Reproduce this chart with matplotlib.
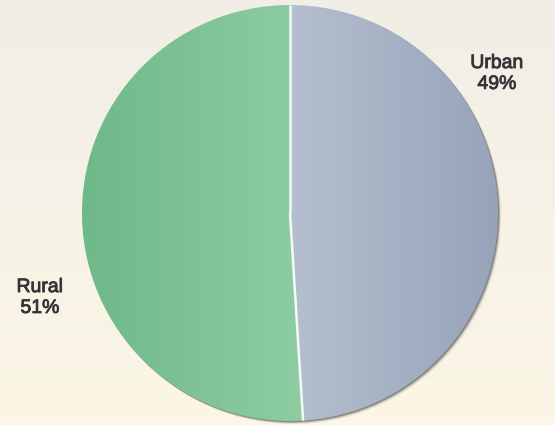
import numpy as np
import matplotlib.pyplot as plt
import matplotlib.patheffects as pe
from matplotlib.patches import Circle

# population share
labels = ["Urban", "Rural"]
shares = [49, 51]

plt.rcParams['font.family'] = ['Liberation Sans', 'DejaVu Sans']

W, H = 555, 425
fig = plt.figure(figsize=(W / 100, H / 100), dpi=100)
ax = fig.add_axes([0, 0, 1, 1])

# cream background, slightly greyer at the top
bg_top = np.array([241, 238, 231]) / 255
bg_bot = np.array([251, 246, 229]) / 255
t = np.linspace(0, 1, 64)[:, None, None]
bg = bg_top * (1 - t) + bg_bot * t
bg = np.repeat(bg, 2, axis=1)
ax.imshow(bg, extent=(0, W, 0, H), origin="upper", aspect="auto", zorder=0)

cx, cy, r = 290, 212, 208

# soft shadow along the lower right rim
for off, a in [(3.0, 0.12), (2.0, 0.25), (1.2, 0.45)]:
    ax.add_patch(Circle((cx + off, cy - off), r, color="#4a4a4a", alpha=a,
                        lw=0, zorder=1))

wedges, _ = ax.pie(shares, startangle=90, counterclock=False,
                   center=(cx, cy), radius=r, frame=True,
                   wedgeprops=dict(linewidth=0),
                   colors=["#aab5c8", "#7fc296"])

# horizontal shading inside each slice
shades = [
    (np.array([182, 192, 208]), np.array([150, 163, 185]), cx - 8, cx + r),
    (np.array([110, 184, 137]), np.array([142, 205, 162]), cx - r, cx + 15),
]
for w, (c0, c1, x0, x1) in zip(wedges, shades):
    s = np.linspace(0, 1, 256)[None, :, None]
    grad = (c0 * (1 - s) + c1 * s) / 255
    grad = np.repeat(grad, 2, axis=0)
    im = ax.imshow(grad, extent=(x0, x1, cy - r, cy + r), aspect="auto",
                   zorder=2)
    im.set_clip_path(w)
    w.set_facecolor("none")

# white divider lines between the slices
for w in wedges:
    a = np.deg2rad(w.theta2)
    ax.plot([cx, cx + r * np.cos(a)], [cy, cy + r * np.sin(a)],
            color="#f4fbf6", lw=1.8, zorder=4, solid_capstyle="butt")

ax.set_xlim(0, W)
ax.set_ylim(0, H)
ax.set_aspect("auto")
ax.axis("off")

txt = dict(fontsize=14, color="#343434", ha="center", va="center",
           linespacing=1.3,
           path_effects=[pe.withStroke(linewidth=0.6, foreground="#343434")])
ax.text(497, H - 74, f"{labels[0]}\n{shares[0]}%", **txt)
ax.text(40, H - 298, f"{labels[1]}\n{shares[1]}%", **txt)

fig.savefig("out.png", dpi=100)
